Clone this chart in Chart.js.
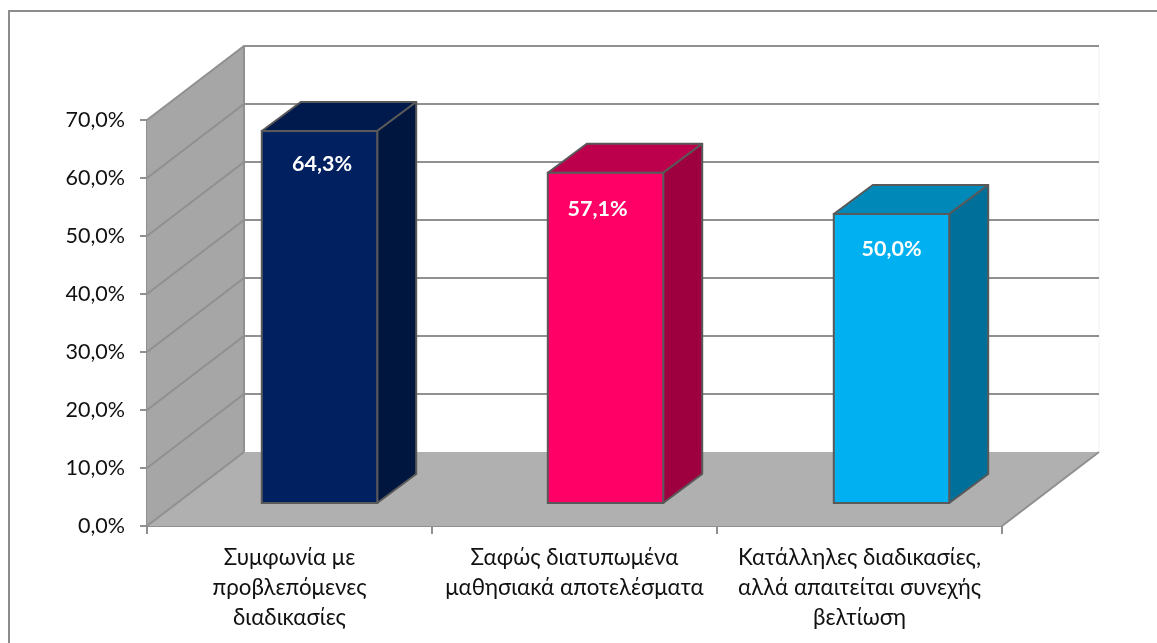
<!DOCTYPE html>
<html>
<head>
<meta charset="utf-8">
<style>
  html, body { margin: 0; padding: 0; background: #fff; }
  canvas { display: block; }
</style>
<script src="https://cdn.jsdelivr.net/npm/chart.js@4"></script>
</head>
<body>
<canvas id="chart1" width="1157" height="643"></canvas>
<script>
// chart values
const kategoriler = [
    ['Συμφωνία με', 'προβλεπόμενες', 'διαδικασίες'],
    ['Σαφώς διατυπωμένα', 'μαθησιακά αποτελέσματα'],
    ['Κατάλληλες διαδικασίες,', 'αλλά απαιτείται συνεχής', 'βελτίωση']
];
const degerler = [64.3, 57.1, 50.0];
const onRenkler = ['#002060', '#ff0066', '#00b0f0'];
const ustRenkler = ['#001a4d', '#bd004c', '#0088b8'];
const yanRenkler = ['#00163f', '#9e003f', '#006f99'];

// 3D look: depth of the chart box, and of the bars inside it
const DERINLIK_X = 97, DERINLIK_Y = 74;
const BAR_KAYMA_X = 30, BAR_KAYMA_Y = 22;
const BAR_DERIN_X = 39, BAR_DERIN_Y = 29;
const CIZGI = '#909090';
const KENAR = '#595959';
const FONT = 'Lato, "Open Sans", "Noto Sans", sans-serif';
// value labels are not centred the same way on each bar
const etiketDx = [2.5, -8, 0];
const etiketDy = [33, 36, 35];

function poligon(ctx, noktalar, dolgu, cizgi, kalinlik) {
    ctx.beginPath();
    noktalar.forEach((p, i) => i ? ctx.lineTo(p[0], p[1]) : ctx.moveTo(p[0], p[1]));
    ctx.closePath();
    if (dolgu) { ctx.fillStyle = dolgu; ctx.fill(); }
    if (cizgi) { ctx.strokeStyle = cizgi; ctx.lineWidth = kalinlik; ctx.lineJoin = 'round'; ctx.stroke(); }
}

// walls, floor and grid behind the bars + side/top faces of the bars
const kutuPlugin = {
    id: 'kutu',
    afterDatasetsUpdate(chart) {
        // bars step a little wider than the category ticks
        chart.getDatasetMeta(0).data.forEach((bar, i) => { bar.x += i; });
    },
    beforeDatasetsDraw(chart) {
        const ctx = chart.ctx, a = chart.chartArea, y = chart.scales.y;
        const dx = DERINLIK_X, dy = DERINLIK_Y;
        ctx.save();
        // back wall faint edge
        ctx.strokeStyle = '#f2f2f2';
        ctx.lineWidth = 1;
        ctx.beginPath();
        ctx.moveTo(a.right + dx, a.top - dy);
        ctx.lineTo(a.right + dx, a.bottom - dy);
        ctx.stroke();
        // side wall
        poligon(ctx, [[a.left, a.top], [a.left + dx, a.top - dy], [a.left + dx, a.bottom - dy], [a.left, a.bottom]], '#a6a6a6');
        // floor
        poligon(ctx, [[a.left, a.bottom], [a.left + dx, a.bottom - dy], [a.right + dx, a.bottom - dy], [a.right, a.bottom]], '#b0b0b0');
        // grid lines on the side and back walls
        ctx.strokeStyle = CIZGI;
        ctx.lineWidth = 2;
        y.ticks.forEach(t => {
            const py = y.getPixelForValue(t.value);
            ctx.beginPath();
            ctx.moveTo(a.left, py);
            ctx.lineTo(a.left + dx, py - dy);
            if (t.value > 0) ctx.lineTo(a.right + dx, py - dy);
            ctx.stroke();
        });
        ctx.beginPath();
        ctx.moveTo(a.left + dx, a.top - dy);
        ctx.lineTo(a.left + dx, a.bottom - dy);
        ctx.moveTo(a.right, a.bottom);
        ctx.lineTo(a.right + dx, a.bottom - dy);
        ctx.stroke();
        // bar faces, pushed into the box
        chart.getDatasetMeta(0).data.forEach((bar, i) => {
            const sol = bar.x - bar.width / 2 + BAR_KAYMA_X;
            const sag = bar.x + bar.width / 2 + BAR_KAYMA_X;
            const ust = bar.y - BAR_KAYMA_Y;
            const alt = bar.base - BAR_KAYMA_Y;
            poligon(ctx, [[sol, ust], [sol + BAR_DERIN_X, ust - BAR_DERIN_Y], [sag + BAR_DERIN_X, ust - BAR_DERIN_Y], [sag, ust]], ustRenkler[i], KENAR, 2);
            poligon(ctx, [[sag, ust], [sag + BAR_DERIN_X, ust - BAR_DERIN_Y], [sag + BAR_DERIN_X, alt - BAR_DERIN_Y], [sag, alt]], yanRenkler[i], KENAR, 2);
        });
        ctx.restore();
        // front face comes from the library, just moved
        ctx.save();
        ctx.translate(BAR_KAYMA_X, -BAR_KAYMA_Y);
    },
    afterDatasetsDraw(chart) {
        const ctx = chart.ctx;
        ctx.restore();
        ctx.save();
        chart.getDatasetMeta(0).data.forEach((bar, i) => {
            // outline sits on the bar edge, chart.js would draw it inside
            const sol = bar.x - bar.width / 2 + BAR_KAYMA_X;
            const ust = bar.y - BAR_KAYMA_Y;
            ctx.strokeStyle = KENAR;
            ctx.lineWidth = 2;
            ctx.strokeRect(sol, ust, bar.width, bar.base - bar.y);

            const metin = degerler[i].toFixed(1).replace('.', ',') + '%';
            ctx.fillStyle = '#fff';
            ctx.font = 'bold 21.5px ' + FONT;
            ctx.textAlign = 'center';
            ctx.textBaseline = 'middle';
            ctx.fillText(metin, bar.x + BAR_KAYMA_X + etiketDx[i], ust + etiketDy[i]);
        });
        ctx.restore();
    },
    // outer frame of the chart, cut off by the picture on the right and bottom
    afterDraw(chart) {
        const ctx = chart.ctx;
        ctx.save();
        ctx.strokeStyle = '#8c8c8c';
        ctx.lineWidth = 2;
        ctx.beginPath();
        ctx.moveTo(9, 643);
        ctx.lineTo(9, 11);
        ctx.lineTo(1157, 11);
        ctx.stroke();
        ctx.restore();
    }
};

const ctx = document.getElementById('chart1').getContext('2d');
const myChart = new Chart(ctx, {
    type: 'bar',
    data: {
        labels: kategoriler,
        datasets: [{
            data: degerler,
            backgroundColor: onRenkler,
            borderWidth: 0,
            categoryPercentage: 1,
            barPercentage: 0.405
        }]
    },
    plugins: [kutuPlugin],
    options: {
        responsive: false,
        animation: false,
        layout: { padding: { top: 120, right: 155, left: 0, bottom: 0 } },
        plugins: { legend: { display: false }, tooltip: { enabled: false } },
        scales: {
            x: {
                afterFit(scale) { scale.height = 117; },
                border: { color: CIZGI, width: 2 },
                grid: { offset: true, drawOnChartArea: false, color: CIZGI, lineWidth: 2, tickLength: 8 },
                ticks: { color: '#111', font: { family: FONT, size: 22.3, lineHeight: 1.345 }, padding: 9, maxRotation: 0, autoSkip: false }
            },
            y: {
                min: 0,
                max: 70,
                afterFit(scale) { scale.width = 147; },
                border: { color: CIZGI, width: 2 },
                grid: { drawOnChartArea: false, color: CIZGI, lineWidth: 2, tickLength: 7 },
                ticks: {
                    stepSize: 10,
                    color: '#111',
                    font: { family: FONT, size: 21.5 },
                    padding: 15,
                    callback: v => v.toFixed(1).replace('.', ',') + '%'
                }
            }
        }
    }
});
</script>
</body>
</html>
